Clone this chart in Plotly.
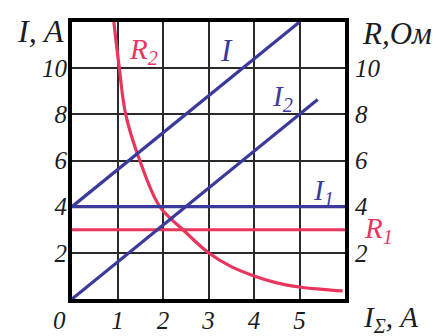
import plotly.graph_objects as go

# Currents, A
x_I = [0, 5]
I_total = [4, 12]
x_I2 = [0, 5.4]
I2 = [0, 8.64]
x_I1 = [0, 6]
I1 = [4, 4]

# Resistances, Ohm
x_R1 = [0, 6]
R1 = [3, 3]
x_R2 = [0.92, 1.04, 1.18, 1.49, 1.93, 2.44, 3.0, 3.5, 4.0, 4.5, 5.0, 5.5, 5.95]
R2 = [12, 10, 8, 6, 4, 3, 2, 1.4, 1.0, 0.7, 0.52, 0.42, 0.35]

x_ticks = [1, 2, 3, 4, 5]
y_ticks = [2, 4, 6, 8, 10]

BLUE = "#3b3a9c"
RED = "#e8365d"
INK = "#1c1c24"
SERIF = "Liberation Serif"

W, H = 448, 336
M_L, M_R, M_T, M_B = 72, 103, 22, 37

fig = go.Figure()

line_style = dict(width=3.2)
fig.add_trace(go.Scatter(x=x_R1, y=R1, mode="lines", line=dict(color=RED, **line_style)))
fig.add_trace(go.Scatter(x=x_R2, y=R2, mode="lines", line=dict(color=RED, shape="spline", **line_style)))
fig.add_trace(go.Scatter(x=x_I1, y=I1, mode="lines", line=dict(color=BLUE, **line_style)))
fig.add_trace(go.Scatter(x=x_I2, y=I2, mode="lines", line=dict(color=BLUE, **line_style)))
fig.add_trace(go.Scatter(x=x_I, y=I_total, mode="lines", line=dict(color=BLUE, **line_style)))
# invisible trace so the right-hand axis is drawn
fig.add_trace(go.Scatter(x=[0], y=[0], yaxis="y2", mode="markers",
                         marker=dict(opacity=0), hoverinfo="skip"))

tick_font = dict(family=SERIF, size=25, color=INK, style="italic")

fig.update_layout(
    width=W, height=H,
    margin=dict(l=M_L, r=M_R, t=M_T, b=M_B),
    paper_bgcolor="white", plot_bgcolor="white",
    showlegend=False,
    xaxis=dict(
        range=[0, 6], tickvals=x_ticks, ticktext=[str(v) for v in x_ticks],
        showgrid=True, gridcolor="#2a2a2a", gridwidth=1.6,
        showline=True, linecolor="black", linewidth=4, mirror=True,
        zeroline=False, ticks="", tickfont=tick_font, fixedrange=True,
        ticklabelstandoff=-4, automargin=False,
    ),
    yaxis=dict(
        range=[0, 12], tickvals=y_ticks, ticktext=[str(v) for v in y_ticks],
        showgrid=True, gridcolor="#2a2a2a", gridwidth=1.6,
        showline=True, linecolor="black", linewidth=4, mirror=True,
        zeroline=False, ticks="", tickfont=tick_font, fixedrange=True,
        ticklabelstandoff=-4, automargin=False,
    ),
    yaxis2=dict(
        range=[0, 12], tickvals=y_ticks, ticktext=[str(v) for v in y_ticks],
        overlaying="y", side="right", showgrid=False, showline=False,
        zeroline=False, ticks="", tickfont=tick_font, fixedrange=True,
        ticklabelstandoff=9, automargin=False,
    ),
)


def px_label(text, px, py, color=INK, size=28):
    """Place a label by its pixel centre on the page."""
    fig.add_annotation(text=text,
                       x=(px - M_L) / (W - M_L - M_R),
                       y=(H - M_B - py) / (H - M_T - M_B),
                       xref="paper", yref="paper",
                       showarrow=False, xanchor="center", yanchor="middle",
                       font=dict(family=SERIF, size=size, color=color, style="italic"))


# axis titles
px_label("I, A", 40, 31, size=32)
px_label("R,Ом", 397, 33, size=31)
px_label("I<sub>Σ</sub>, A", 390, 319, size=29)
px_label("0", 59, 320, size=25)

# curve labels
px_label("R<sub>2</sub>", 143, 51, color=RED, size=29)
px_label("I", 226, 50, color=BLUE, size=31)
px_label("I<sub>2</sub>", 282, 98, color=BLUE, size=29)
px_label("I<sub>1</sub>", 323, 192, color=BLUE, size=29)
px_label("R<sub>1</sub>", 378, 230, color=RED, size=29)

fig.write_html("out.html")
